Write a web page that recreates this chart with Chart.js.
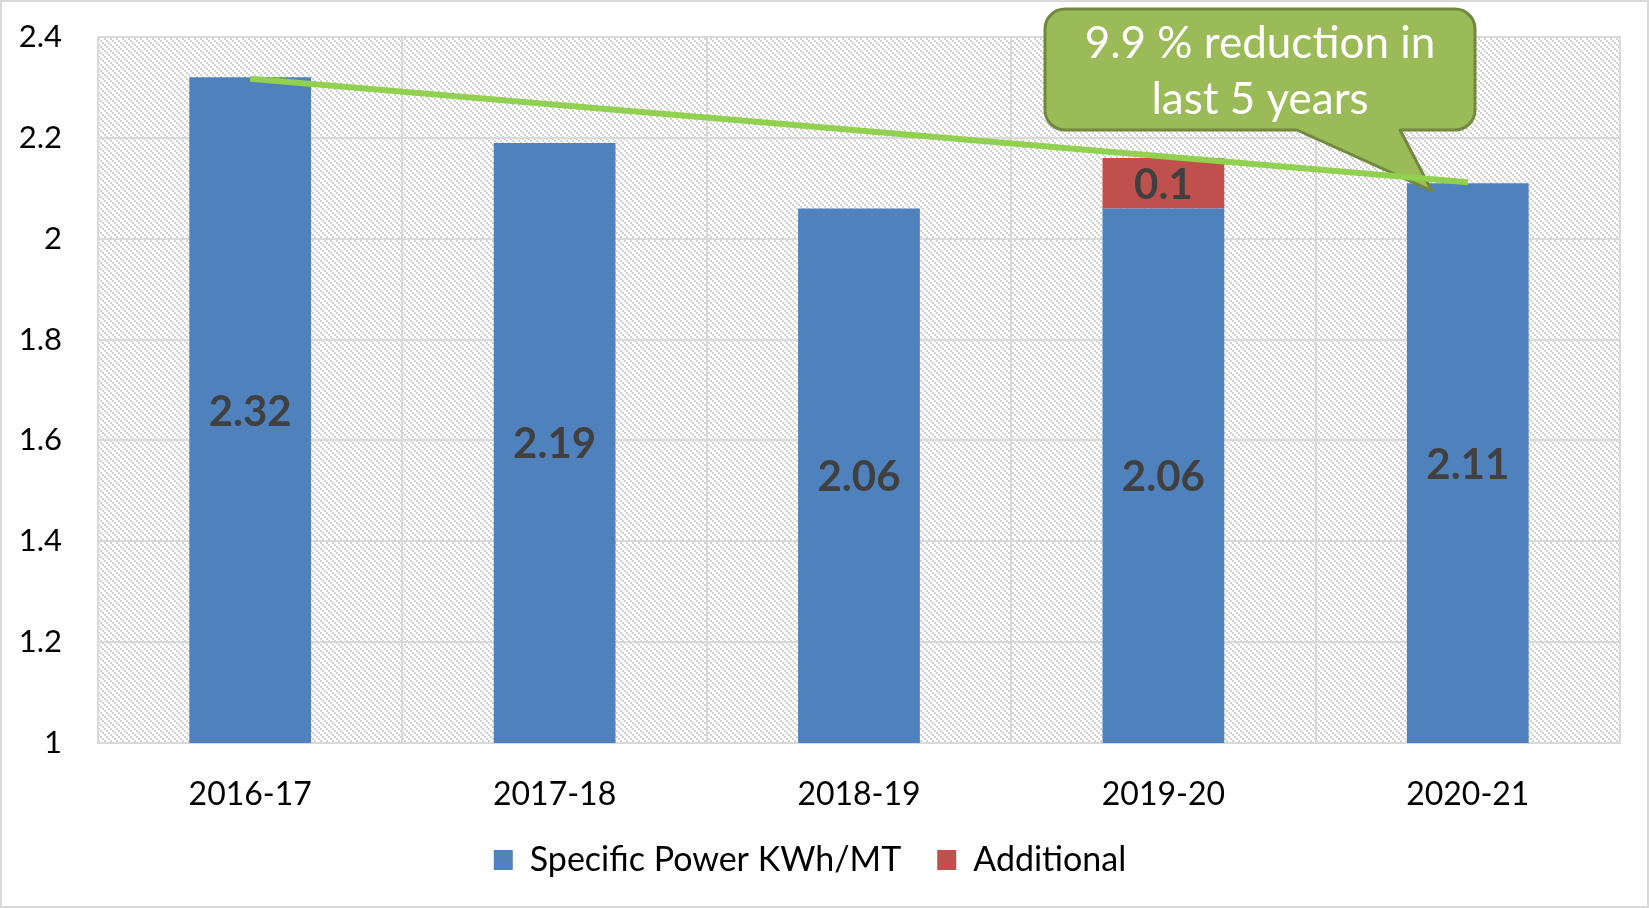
<!DOCTYPE html>
<html>
<head>
<meta charset="utf-8">
<script src="https://cdn.jsdelivr.net/npm/chart.js@4.4.1/dist/chart.umd.min.js"></script>
<style>
  html, body { margin: 0; padding: 0; background: #fff; }
  canvas { display: block; }
</style>
</head>
<body>
<canvas id="powerChart" width="1649" height="908"></canvas>
<script>
const years = ["2016-17", "2017-18", "2018-19", "2019-20", "2020-21"];
const specificPower = [2.32, 2.19, 2.06, 2.06, 2.11];
const additional = [null, null, null, 0.1, null];
const trendLine = [2.317, null, null, null, 2.112];
const yTicks = [1, 1.2, 1.4, 1.6, 1.8, 2, 2.2, 2.4];
const calloutLines = ["9.9 % reduction in", "last 5 years"];

const FONT = "Lato, 'Open Sans', sans-serif";
const GRID = "#d9d9d9";

// excel style "light downward diagonal" fill
function hatchPattern(ctx) {
  const tile = document.createElement("canvas");
  tile.width = 6;
  tile.height = 6;
  const t = tile.getContext("2d");
  t.fillStyle = "#ffffff";
  t.fillRect(0, 0, 6, 6);
  t.fillStyle = "#d2d2d2";
  for (let i = 0; i < 6; i += 2) t.fillRect(i, i, 2, 2);
  return ctx.createPattern(tile, "repeat");
}

const plotBackground = {
  id: "plotBackground",
  beforeDraw(chart) {
    const { ctx, chartArea: a } = chart;
    ctx.save();
    ctx.fillStyle = hatchPattern(ctx);
    ctx.fillRect(a.left, a.top, a.right - a.left, a.bottom - a.top);
    ctx.strokeStyle = GRID;
    ctx.lineWidth = 2;
    ctx.strokeRect(1, 1, chart.width - 2, chart.height - 2);
    ctx.restore();
  },
  beforeDatasetsDraw(chart) {
    const { ctx, chartArea: a } = chart;
    ctx.save();
    ctx.strokeStyle = GRID;
    ctx.lineWidth = 2;
    ctx.strokeRect(a.left, a.top, a.right - a.left, a.bottom - a.top);
    ctx.restore();
  }
};

// callout drawn just before the trend line so the line sits on top
const callout = {
  id: "callout",
  beforeDatasetDraw(chart, args) {
    if (args.meta.type !== "line") return;
    const { ctx, scales: { x, y } } = chart;
    const left = 1045, right = 1475, top = 9, bottom = 130, r = 20;
    const tipX = x.getPixelForValue(4) - 36;
    const tipY = y.getPixelForValue(2.095);
    ctx.save();
    ctx.beginPath();
    ctx.moveTo(left + r, top);
    ctx.lineTo(right - r, top);
    ctx.arcTo(right, top, right, top + r, r);
    ctx.lineTo(right, bottom - r);
    ctx.arcTo(right, bottom, right - r, bottom, r);
    ctx.lineTo(1400, bottom);
    ctx.lineTo(tipX, tipY);
    ctx.lineTo(1297, bottom);
    ctx.lineTo(left + r, bottom);
    ctx.arcTo(left, bottom, left, bottom - r, r);
    ctx.lineTo(left, top + r);
    ctx.arcTo(left, top, left + r, top, r);
    ctx.closePath();
    ctx.fillStyle = "#9bbb59";
    ctx.fill();
    ctx.lineWidth = 3;
    ctx.strokeStyle = "#71893f";
    ctx.lineJoin = "round";
    ctx.stroke();
    ctx.fillStyle = "#ffffff";
    ctx.font = "44px " + FONT;
    ctx.textAlign = "center";
    ctx.textBaseline = "middle";
    ctx.fillText(calloutLines[0], (left + right) / 2, 44);
    ctx.fillText(calloutLines[1], (left + right) / 2, 100);
    ctx.restore();
  }
};

const barLabels = {
  id: "barLabels",
  afterDatasetsDraw(chart) {
    const { ctx, chartArea } = chart;
    ctx.save();
    ctx.font = "bold 42px " + FONT;
    ctx.fillStyle = "#404040";
    ctx.textAlign = "center";
    ctx.textBaseline = "middle";
    chart.data.datasets.forEach((ds, i) => {
      if (ds.type === "line") return;
      chart.getDatasetMeta(i).data.forEach((bar, j) => {
        const v = ds.data[j];
        if (v == null) return;
        const { x, y, base } = bar.getProps(["x", "y", "base"], true);
        const b = Math.min(base, chartArea.bottom);
        ctx.fillText(String(v), x, (y + b) / 2 + 2);
      });
    });
    ctx.restore();
  }
};

new Chart(document.getElementById("powerChart"), {
  data: {
    labels: years,
    datasets: [
      {
        type: "line",
        label: "Trend",
        data: trendLine,
        spanGaps: true,
        borderColor: "#92d050",
        borderWidth: 6,
        pointRadius: 0,
        order: 0
      },
      {
        type: "bar",
        label: "Specific Power KWh/MT",
        data: specificPower,
        backgroundColor: "#4f81bd",
        barPercentage: 0.4,
        categoryPercentage: 1,
        order: 1
      },
      {
        type: "bar",
        label: "Additional",
        data: additional,
        backgroundColor: "#c0504d",
        barPercentage: 0.4,
        categoryPercentage: 1,
        order: 1
      }
    ]
  },
  options: {
    responsive: false,
    animation: false,
    devicePixelRatio: 1,
    layout: { padding: { top: 37, right: 29, left: 0, bottom: 21 } },
    plugins: {
      tooltip: { enabled: false },
      legend: {
        position: "bottom",
        labels: {
          filter: (item) => item.text !== "Trend",
          color: "#000",
          font: { family: FONT, size: 34 },
          boxWidth: 19,
          boxHeight: 20,
          padding: 36
        }
      }
    },
    scales: {
      x: {
        stacked: true,
        grid: { color: GRID, lineWidth: 2, offset: true, drawTicks: false },
        border: { color: GRID, width: 2 },
        ticks: { color: "#000", font: { family: FONT, size: 32 }, padding: 32 },
        afterFit(scale) {
          const legendH = scale.chart.legend ? scale.chart.legend.height : 0;
          scale.height = 908 - 21 - legendH - 743;
        }
      },
      y: {
        stacked: true,
        min: 1,
        max: 2.4,
        afterBuildTicks(scale) {
          scale.ticks = yTicks.map((v) => ({ value: v }));
        },
        ticks: {
          color: "#000",
          font: { family: FONT, size: 31 },
          padding: 0,
          callback: (v) => String(+v.toFixed(1))
        },
        // invisible tick marks give the label gap without padding the top
        grid: { color: GRID, lineWidth: 2, drawTicks: true, tickLength: 36, tickColor: "rgba(0,0,0,0)" },
        border: { color: GRID, width: 2 },
        afterFit(scale) {
          scale.width = 98;
        }
      }
    }
  },
  plugins: [plotBackground, callout, barLabels]
});
</script>
</body>
</html>
